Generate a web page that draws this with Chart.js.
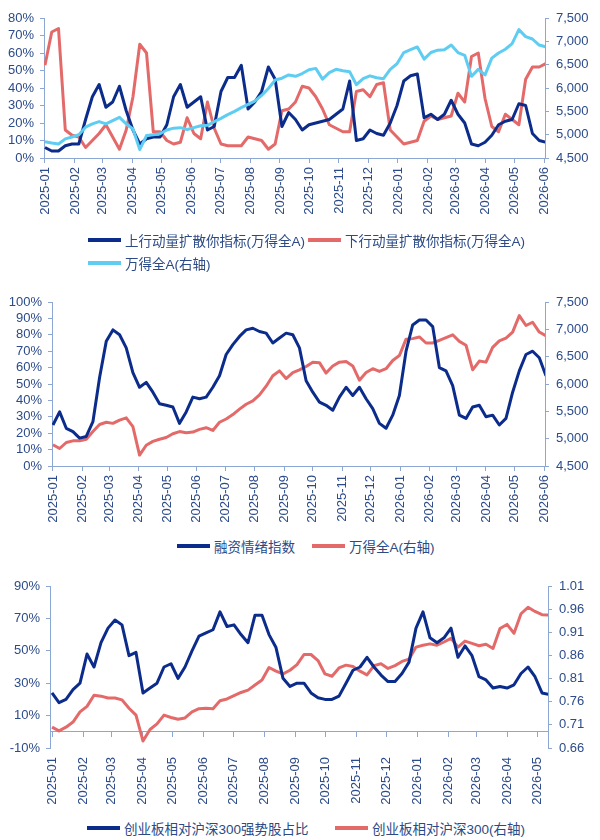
<!DOCTYPE html>
<html>
<head>
<meta charset="utf-8">
<script src="https://cdn.jsdelivr.net/npm/chart.js@4.4.1/dist/chart.umd.min.js"></script>
<style>
  body { margin: 0; background: #fff; width: 600px; height: 840px; position: relative; overflow: hidden;
         font-family: "Liberation Sans", "Noto Sans CJK SC", sans-serif; }
  canvas { position: absolute; left: 0; }
  .item { position: absolute; height: 20px; display: flex; align-items: center; white-space: nowrap;
          font-size: 13.5px; color: #2b4a86; }
  .item i { display: inline-block; width: 33px; height: 4px; margin-right: 4px; }
</style>
</head>
<body>
<canvas id="c1" width="600" height="232" style="top:0"></canvas>
<canvas id="c2" width="600" height="250" style="top:285px"></canvas>
<canvas id="c3" width="600" height="240" style="top:570px"></canvas>

<div class="item" style="left:88px;top:230px"><i style="background:#0b2c8a"></i>上行动量扩散你指标(万得全A)</div>
<div class="item" style="left:308px;top:230px"><i style="background:#e46a6a"></i>下行动量扩散你指标(万得全A)</div>
<div class="item" style="left:88px;top:253px"><i style="background:#5fcdf2"></i>万得全A(右轴)</div>

<div class="item" style="left:177px;top:536px"><i style="background:#0b2c8a"></i>融资情绪指数</div>
<div class="item" style="left:312px;top:536px"><i style="background:#e46a6a"></i>万得全A(右轴)</div>

<div class="item" style="left:87px;top:818px"><i style="background:#0b2c8a"></i>创业板相对沪深300强势股占比</div>
<div class="item" style="left:335px;top:818px"><i style="background:#e46a6a"></i>创业板相对沪深300(右轴)</div>

<script>
// weekly samples, day 0 = 2025-01-01
const STEP_DAYS = 7;

const months1 = ['2025-01', '2025-02', '2025-03', '2025-04', '2025-05', '2025-06', '2025-07', '2025-08', '2025-09',
    '2025-10', '2025-11', '2025-12', '2026-01', '2026-02', '2026-03', '2026-04', '2026-05', '2026-06'];
const months3 = months1.slice(0, 17);

const pctTicks1 = [0, 10, 20, 30, 40, 50, 60, 70, 80];
const pctTicks2 = [0, 10, 20, 30, 40, 50, 60, 70, 80, 90, 100];
const pctTicks3 = [-10, 10, 30, 50, 70, 90];
const indexTicks = [4500, 5000, 5500, 6000, 6500, 7000, 7500];
const ratioTicks = [0.66, 0.71, 0.76, 0.81, 0.86, 0.91, 0.96, 1.01];

// panel 1 (%)
const upMomentum = [6, 4, 4, 7, 8, 8, 22, 35, 42, 29, 32, 41, 27, 16, 8, 11, 12, 12, 19, 35, 42, 29, 32, 35, 16, 18,
    38, 46, 46, 53, 28, 32, 38, 52, 45, 18, 26, 22,
    16, 19, 20, 21, 22, 25, 28, 44, 10, 11, 16, 14, 13, 20, 30, 44, 47, 48, 23, 25, 22, 25, 33, 25, 20, 8, 7, 9,
    13, 19, 21, 22, 31, 30, 14, 10, 9];
const downMomentum = [53, 72, 74, 16, 13, 12, 6, 10, 14, 19, 12, 5, 16, 35, 65, 60, 15, 15, 10, 8, 9, 23, 14, 11, 32,
    17, 8, 7, 7, 7, 12, 11, 10, 5, 8, 27, 28, 32,
    41, 40, 35, 28, 19, 17, 15, 15, 38, 39, 35, 42, 43, 16, 12, 8, 9, 10, 21, 24, 22, 23, 24, 37, 32, 58, 60, 34,
    18, 15, 25, 22, 19, 45, 52, 52, 54];
const windA1 = [4850, 4820, 4800, 4910, 4950, 5000, 5160, 5230, 5280, 5230, 5300, 5370, 5230, 5120, 4680, 4980, 5000,
    5020, 5100, 5140, 5150, 5110, 5150, 5190, 5200, 5280, 5350, 5430, 5500, 5580, 5650, 5720, 5840, 5990, 6170, 6210,
    6280, 6250,
    6310, 6390, 6420, 6190, 6330, 6400, 6370, 6350, 6070, 6200, 6260, 6220, 6200, 6400, 6520, 6760, 6820, 6880, 6620,
    6760, 6810, 6820, 6920, 6760, 6700, 6250, 6400, 6280, 6640, 6750, 6830, 6950, 7250, 7100, 7050, 6920, 6880];

// panel 2
const marginMood = [25, 33, 23, 21, 17, 18, 27, 54, 76, 83, 80, 72, 57, 48, 51, 45, 38, 37, 36, 26, 33, 42, 41, 42,
    48, 55, 68, 74, 79, 83, 84, 82, 81, 75, 78, 81, 80, 72,
    52, 45, 39, 37, 34, 42, 48, 43, 48, 41, 35, 26, 23, 31, 43, 70, 86, 89, 89, 85, 60, 58, 49, 31, 29, 36, 37, 30,
    31, 25, 29, 45, 58, 68, 70, 66, 55];
const windA2 = [4890, 4820, 4930, 4960, 4960, 4990, 5130, 5260, 5300, 5280, 5340, 5380, 5220, 4700, 4880, 4950, 4990,
    5020, 5090, 5130, 5110, 5120, 5170, 5200, 5150, 5300, 5360, 5440, 5540, 5630, 5690, 5800, 5960, 6150, 6240, 6100,
    6210, 6260,
    6320, 6400, 6390, 6200, 6330, 6400, 6410, 6330, 6070, 6210, 6280, 6230, 6280, 6430, 6520, 6820, 6830, 6860, 6750,
    6750, 6800, 6850, 6900, 6780, 6710, 6260, 6420, 6400, 6670, 6790, 6840, 6950, 7250, 7070, 7130, 6950, 6880];

// panel 3
const strongShare = [24, 18, 20, 26, 30, 48, 40, 55, 64, 69, 66, 47, 49, 24, 27, 30, 40, 42, 33, 40, 50, 59, 61, 63,
    74, 65, 66, 60, 55, 72, 72, 60, 52, 33, 28, 30,
    30, 24, 21, 20, 20, 22, 30, 38, 40, 46, 40, 35, 31, 31, 36, 43, 64, 74, 58, 55, 58, 64, 46, 53, 47, 34, 32, 27,
    28, 27, 29, 36, 40, 34, 24, 23];
const chinextRel = [0.705, 0.697, 0.705, 0.716, 0.738, 0.750, 0.774, 0.772, 0.768, 0.768, 0.764, 0.746, 0.731, 0.675,
    0.700, 0.712, 0.731, 0.726, 0.722, 0.725, 0.738, 0.745, 0.746, 0.745, 0.762, 0.766, 0.773, 0.780, 0.785, 0.796,
    0.807, 0.834, 0.826, 0.820, 0.828, 0.840,
    0.862, 0.862, 0.849, 0.820, 0.815, 0.833, 0.839, 0.836, 0.826, 0.818, 0.838, 0.842, 0.832, 0.838, 0.847, 0.852,
    0.878, 0.882, 0.885, 0.882, 0.889, 0.897, 0.878, 0.891, 0.886, 0.881, 0.884, 0.875, 0.918, 0.927, 0.908, 0.950,
    0.964, 0.955, 0.948, 0.947];

const AXIS = '#8ca7d3';
const TICK = '#2c4b8a';
const NAVY = '#0b2c8a';
const RED = '#e46a6a';
const SKY = '#5fcdf2';
const FONT = { family: '"Liberation Sans", Arial, sans-serif', size: 13 };

const monthDays = labels => labels.map(l => {
    const [y, m] = l.split('-').map(Number);
    return (Date.UTC(y, m - 1, 1) - Date.UTC(2025, 0, 1)) / 864e5;
});

const points = vals => vals.map((v, i) => ({ x: i * STEP_DAYS, y: v }));

function series(vals, color, axisId, order) {
    return {
        data: points(vals), yAxisID: axisId, order: order,
        borderColor: color, borderWidth: 3, borderJoinStyle: 'round',
        pointRadius: 0, tension: 0
    };
}

function monthAxis(labels, min, max, height) {
    const days = monthDays(labels);
    return {
        type: 'linear', axis: 'x', position: 'bottom', min: min, max: max,
        afterBuildTicks: s => { s.ticks = days.map(v => ({ value: v })); },
        afterFit: s => { s.height = height; },
        border: { display: true, color: AXIS },
        grid: { drawOnChartArea: false, tickLength: 5, color: AXIS },
        ticks: {
            autoSkip: false, minRotation: 90, maxRotation: 90, padding: 4,
            color: TICK, font: FONT, callback: (v, i) => labels[i]
        }
    };
}

function valueAxis(side, tickList, width, fmt) {
    return {
        type: 'linear', position: side,
        min: tickList[0], max: tickList[tickList.length - 1],
        afterBuildTicks: s => { s.ticks = tickList.map(v => ({ value: v })); },
        afterFit: s => { s.width = width; },
        border: { display: true, color: AXIS },
        grid: { drawOnChartArea: false, tickLength: 4, color: AXIS },
        ticks: {
            autoSkip: false, padding: side === 'left' ? 6 : 7,
            color: TICK, font: FONT, callback: fmt
        }
    };
}

const pct = v => v + '%';
const thousands = v => v.toLocaleString('en-US');

function makeChart(id, datasets, scales, top) {
    return new Chart(document.getElementById(id), {
        type: 'line',
        data: { datasets: datasets },
        options: {
            responsive: false, animation: false, events: [],
            layout: { padding: { top: top, left: 0, right: 0, bottom: 0 } },
            plugins: { legend: { display: false }, tooltip: { enabled: false } },
            scales: scales
        }
    });
}

/* ---- Panel 1: momentum diffusion ---- */
makeChart('c1', [
    series(windA1, SKY, 'y1', 0),
    series(upMomentum, NAVY, 'y', 1),
    series(downMomentum, RED, 'y', 2)
], {
    x: monthAxis(months1, -1, 517, 74),
    y: valueAxis('left', pctTicks1, 44, pct),
    y1: valueAxis('right', indexTicks, 55, thousands)
}, 18);

/* ---- Panel 2: margin sentiment ---- */
makeChart('c2', [
    series(marginMood, NAVY, 'y', 0),
    series(windA2, RED, 'y1', 1)
], {
    x: monthAxis(months1, -1, 517, 69),
    y: valueAxis('left', pctTicks2, 52, pct),
    y1: valueAxis('right', indexTicks, 55, thousands)
}, 17);

/* ---- Panel 3: ChiNext vs CSI300 ---- */
const zeroLine = monthAxis(months3, -2, 496, 0);
zeroLine.position = { y: 0 };
zeroLine.ticks = { display: false };
delete zeroLine.afterFit;

const bottomLabels = monthAxis(months3, -2, 496, 62);
bottomLabels.border = { display: false };
bottomLabels.grid = { drawOnChartArea: false, drawTicks: false };
bottomLabels.ticks.padding = 9;

makeChart('c3', [
    series(strongShare, NAVY, 'y', 0),
    series(chinextRel, RED, 'y1', 1)
], {
    x: zeroLine,
    x2: bottomLabels,
    y: valueAxis('left', pctTicks3, 50, pct),
    y1: valueAxis('right', ratioTicks, 52, v => v.toFixed(2))
}, 16);
</script>
</body>
</html>
